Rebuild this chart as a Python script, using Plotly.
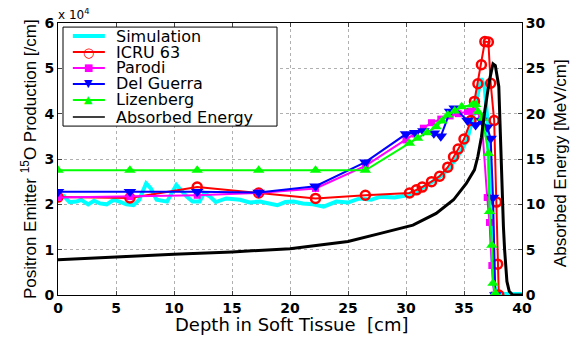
import plotly.graph_objects as go

# ---- data (left axis in units of 1e4 /cm, right axis MeV/cm) ----
series_names = ["Simulation", "ICRU 63", "Parodi", "Del Guerra", "Lizenberg", "Absorbed Energy"]

sim_x = [0, 0.5, 1.0, 1.6, 2.0, 2.6, 3.1, 3.6, 4.2, 4.8, 5.3, 5.9, 6.5, 7.0, 7.6, 8.0, 8.5, 9.4, 10.2,
         10.6, 11.1, 11.6, 12.2, 12.6, 13.1, 13.6, 14.5, 15.7, 16.5, 17.4, 18.2, 18.9, 19.6, 20.3, 21.1,
         22.0, 22.9, 24.0, 25.0, 26.0, 27.0, 27.8, 29.0, 30.1, 30.9, 31.6, 32.3, 33.0, 33.7, 34.3,
         34.8, 35.3, 35.8, 36.2, 36.5, 36.8, 37.0, 37.2, 37.4, 37.6, 37.8, 38.5, 40]
sim_y = [2.13, 2.18, 2.05, 2.06, 2.10, 2.00, 2.08, 2.02, 2.00, 2.10, 2.06, 2.00, 1.98, 2.10, 2.46, 2.35, 2.10,
         2.06, 2.43, 2.30, 2.17, 2.06, 2.06, 2.25, 2.17, 2.05, 2.13, 2.10, 2.04, 2.06, 2.02, 1.98, 2.05, 2.06,
         2.02, 2.00, 1.95, 2.06, 2.04, 2.13, 2.10, 2.17, 2.15, 2.20, 2.28, 2.38, 2.50, 2.62, 2.80, 3.00,
         3.20, 3.45, 3.95, 4.45, 4.78, 4.55, 3.90, 2.50, 1.00, 0.20, 0.05, 0.02, 0.02]

icru_x = [0, 6.2, 12, 17.3, 22.2, 26.5, 30.3, 30.9, 31.4, 32.2, 32.9, 33.6, 34.1, 34.5, 35.0, 35.6,
          35.9, 36.2, 36.5, 36.8, 37.1, 37.3, 37.6, 37.8, 37.9, 38.0]
icru_y = [2.16, 2.14, 2.38, 2.25, 2.13, 2.20, 2.25, 2.32, 2.38, 2.50, 2.62, 2.82, 3.05, 3.22, 3.44, 3.85,
          4.27, 4.66, 5.08, 5.59, 5.58, 4.67, 3.85, 2.05, 0.68, 0.0]

parodi_x = [0, 6.2, 12, 17.3, 22.2, 26.5, 30.0, 30.8, 31.5, 32.2, 33.0, 33.8, 34.5, 35.3, 35.8, 36.5,
            37.0, 37.2, 37.4, 37.6]
parodi_y = [2.15, 2.17, 2.20, 2.25, 2.35, 2.85, 3.42, 3.55, 3.68, 3.80, 3.88, 3.95, 4.00, 4.05, 4.05, 3.95,
            2.15, 1.60, 0.65, 0.0]

delg_x = [0, 6.2, 12, 17.3, 22.2, 26.5, 30.0, 30.8, 31.5, 32.4, 33.0, 33.8, 34.2, 35.3, 36.0, 36.5,
          37.0, 37.3, 37.5, 37.7]
delg_y = [2.28, 2.28, 2.28, 2.26, 2.40, 2.93, 3.55, 3.58, 3.62, 3.57, 3.50, 4.05, 4.12, 3.85, 3.75, 3.85,
          3.70, 3.45, 2.15, 0.0]

liz_x = [0, 6.2, 12, 17.3, 22.2, 26.5, 30.3, 31.0, 31.8, 32.6, 33.1, 33.6, 34.2, 34.8, 35.7, 36.0,
         36.2, 36.6, 37.1, 37.2, 37.4, 37.5, 37.7]
liz_y = [2.75, 2.75, 2.75, 2.75, 2.75, 2.75, 3.35, 3.46, 3.58, 3.71, 3.84, 3.97, 4.06, 4.15, 4.19, 4.20,
         4.04, 3.90, 3.12, 1.84, 1.10, 0.26, 0.04]

dose_x = [0, 2, 5, 10, 15, 20, 25, 27.8, 30.6, 32.6, 34.1, 35.2, 35.9, 36.2, 36.5, 36.8, 37.2, 37.5,
          37.7, 38.0, 38.1, 38.25, 38.4, 38.5, 38.7, 38.9, 39.2, 40]
dose_y = [3.9, 4.0, 4.2, 4.5, 4.75, 5.1, 5.9, 6.8, 7.7, 9.0, 10.5, 12.3, 13.8, 15.3, 17.4, 20.4, 23.7, 25.5,
          25.3, 23.0, 18.5, 13.0, 7.5, 5.0, 1.5, 0.4, 0.0, 0.0]

x_ticks = [0, 5, 10, 15, 20, 25, 30, 35, 40]
y_ticks = [0, 1, 2, 3, 4, 5, 6]
y2_ticks = [0, 5, 10, 15, 20, 25, 30]

x_title = "Depth in Soft Tissue\u00a0 [cm]"
y_title = "Positron Emitter <sup>15</sup>O Production [/cm]"
y2_title = "Absorbed Energy [MeV/cm]"

FONT = "Liberation Sans, Arial, Helvetica, sans-serif"
WIDE = "DejaVu Sans, Verdana, sans-serif"
colors = ["#00FFFF", "#FF0000", "#FF00FF", "#0000FF", "#00FF00", "#000000"]
widths = [4, 2, 2, 2, 2, 1.5]
legend_symbols = [None, "○", "■", "▼", "▲", None]
legend_symbol_sizes = [0, 13, 10, 11, 11, 0]

fig = go.Figure()
fig.add_trace(go.Scatter(x=sim_x, y=sim_y, mode="lines", name=series_names[0],
                         line=dict(color=colors[0], width=4)))
fig.add_trace(go.Scatter(x=icru_x, y=icru_y, mode="lines+markers", name=series_names[1],
                         line=dict(color=colors[1], width=2),
                         marker=dict(symbol="circle-open", size=9, color=colors[1], line=dict(width=2.5))))
fig.add_trace(go.Scatter(x=parodi_x, y=parodi_y, mode="lines+markers", name=series_names[2],
                         line=dict(color=colors[2], width=2),
                         marker=dict(symbol="square", size=7, color=colors[2])))
fig.add_trace(go.Scatter(x=delg_x, y=delg_y, mode="lines+markers", name=series_names[3],
                         line=dict(color=colors[3], width=2),
                         marker=dict(symbol="triangle-down", size=11, color=colors[3])))
fig.add_trace(go.Scatter(x=liz_x, y=liz_y, mode="lines+markers", name=series_names[4],
                         line=dict(color=colors[4], width=2),
                         marker=dict(symbol="triangle-up", size=10, color=colors[4])))
fig.add_trace(go.Scatter(x=dose_x, y=dose_y, mode="lines", name=series_names[5],
                         line=dict(color=colors[5], width=3), yaxis="y2"))

# ---- compact legend drawn as shapes + text (paper coordinates) ----
box_x0, box_x1, box_y0, box_y1 = 0.0108, 0.472, 0.621, 0.985
row_y = [0.952, 0.893, 0.835, 0.776, 0.717, 0.654]
ln_x0, ln_x1, mk_x, tx_x = 0.032, 0.101, 0.0668, 0.1207

shapes = [dict(type="rect", xref="paper", yref="paper", x0=box_x0, x1=box_x1, y0=box_y0, y1=box_y1,
               line=dict(color="black", width=1), fillcolor="white", layer="above")]
annotations = [
    dict(text="x 10<sup>4</sup>", xref="paper", yref="paper", x=-0.004, y=0.995,
         xanchor="left", yanchor="bottom", showarrow=False, font=dict(size=12, family=WIDE)),
    dict(text=x_title, xref="paper", yref="paper", x=0.504, y=-0.11,
         xanchor="center", yanchor="middle", showarrow=False, font=dict(size=18, family=WIDE)),
    dict(text=y_title, xref="paper", yref="paper", x=-0.0625, y=0.5, textangle=-90,
         xanchor="center", yanchor="middle", showarrow=False, font=dict(size=17, family=FONT)),
    dict(text=y2_title, xref="paper", yref="paper", x=1.082, y=0.485, textangle=-90,
         xanchor="center", yanchor="middle", showarrow=False, font=dict(size=17, family=FONT)),
]
for i, name in enumerate(series_names):
    shapes.append(dict(type="line", xref="paper", yref="paper", x0=ln_x0, x1=ln_x1,
                       y0=row_y[i], y1=row_y[i], line=dict(color=colors[i], width=widths[i]),
                       layer="above"))
    annotations.append(dict(text=name, xref="paper", yref="paper", x=tx_x, y=row_y[i],
                            xanchor="left", yanchor="middle", showarrow=False,
                            font=dict(size=16, family=WIDE)))
    if legend_symbols[i]:
        annotations.append(dict(text=legend_symbols[i], xref="paper", yref="paper", x=mk_x, y=row_y[i],
                                xanchor="center", yanchor="middle", showarrow=False,
                                font=dict(size=legend_symbol_sizes[i], color=colors[i],
                                          family="DejaVu Sans")))

axis_common = dict(ticks="inside", ticklen=4, showline=True, linecolor="black", linewidth=1,
                   zeroline=False, tickfont=dict(size=14, family=WIDE, weight="bold"),
                   automargin=False)

fig.update_layout(
    width=573, height=329,
    margin=dict(l=50, r=59, t=15, b=42),
    paper_bgcolor="white", plot_bgcolor="white",
    font=dict(family=FONT, size=14, color="black"),
    showlegend=False,
    xaxis=dict(range=[0, 40], tickvals=x_ticks, mirror="ticks",
               showgrid=True, gridcolor="#b0b0b0", griddash="dot", gridwidth=1,
               **axis_common),
    yaxis=dict(range=[0, 6], tickvals=y_ticks,
               showgrid=True, gridcolor="#b0b0b0", griddash="dot", gridwidth=1,
               **axis_common),
    yaxis2=dict(range=[0, 30], tickvals=y2_ticks, overlaying="y", side="right", showgrid=False,
                **axis_common),
    shapes=shapes,
    annotations=annotations,
)

fig.write_html("out.html")
